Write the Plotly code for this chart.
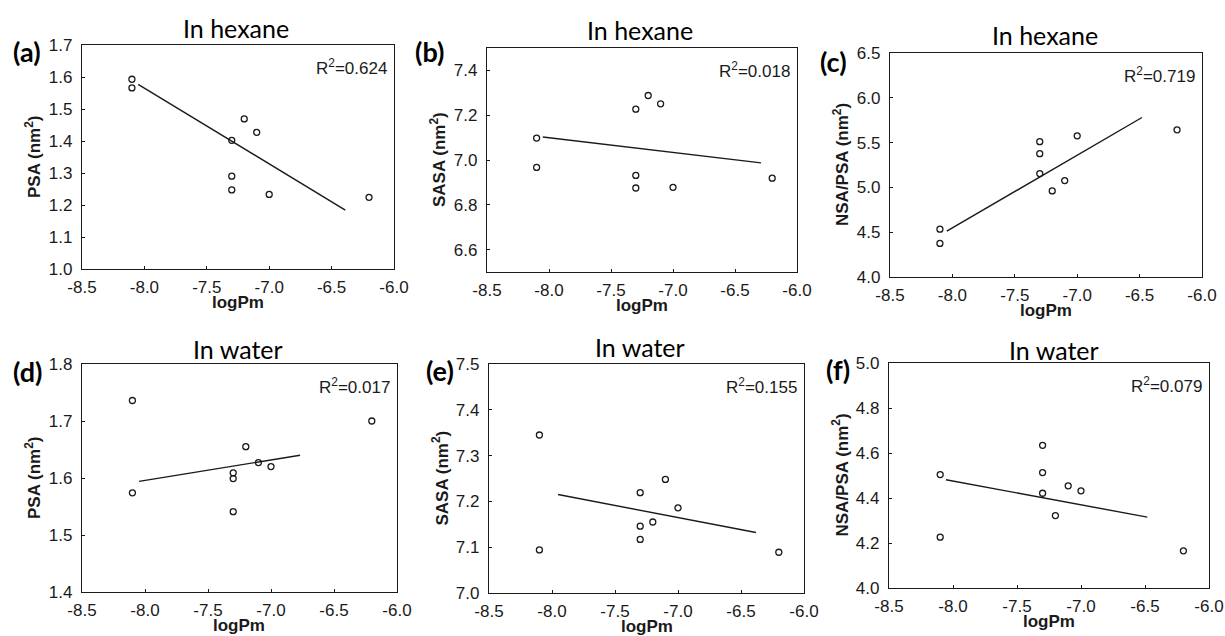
import plotly.graph_objects as go

# ---------------- data ----------------
log_pm = [-8.1, -8.1, -7.3, -7.3, -7.3, -7.2, -7.1, -7.0, -6.2]

psa_hexane = [1.593, 1.566, 1.402, 1.290, 1.247, 1.469, 1.427, 1.233, 1.224]
sasa_hexane = [7.098, 6.967, 7.227, 6.931, 6.875, 7.288, 7.251, 6.878, 6.919]
nsa_psa_hexane = [4.534, 4.375, 5.510, 5.376, 5.154, 4.961, 5.076, 5.576, 5.643]
psa_water = [1.736, 1.574, 1.609, 1.599, 1.541, 1.655, 1.627, 1.620, 1.700]
sasa_water = [7.345, 7.094, 7.219, 7.146, 7.117, 7.155, 7.248, 7.186, 7.089]
nsa_psa_water = [4.504, 4.226, 4.634, 4.513, 4.421, 4.322, 4.454, 4.432, 4.165]

# regression line end points
fit_x_a = [-8.05, -6.39]
fit_y_a = [1.577, 1.184]
fit_x_b = [-8.05, -6.29]
fit_y_b = [7.103, 6.987]
fit_x_c = [-8.045, -6.481]
fit_y_c = [4.512, 5.780]
fit_x_d = [-8.047, -6.769]
fit_y_d = [1.594, 1.640]
fit_x_e = [-7.952, -6.381]
fit_y_e = [7.215, 7.132]
fit_x_f = [-8.055, -6.482]
fit_y_f = [4.481, 4.315]

r2_values = ["0.624", "0.018", "0.719", "0.017", "0.155", "0.079"]
panel_letters = ["(a)", "(b)", "(c)", "(d)", "(e)", "(f)"]
panel_titles = ["In hexane", "In hexane", "In hexane", "In water", "In water", "In water"]
y_titles = ["PSA (nm<sup>2</sup>)", "SASA (nm<sup>2</sup>)", "NSA/PSA (nm<sup>2</sup>)",
            "PSA (nm<sup>2</sup>)", "SASA (nm<sup>2</sup>)", "NSA/PSA (nm<sup>2</sup>)"]
x_title = "logPm"

x_tick_vals = [-8.5, -8.0, -7.5, -7.0, -6.5, -6.0]
x_tick_text = ["-8.5", "-8.0", "-7.5", "-7.0", "-6.5", "-6.0"]

y_tick_vals_a = [1.0, 1.1, 1.2, 1.3, 1.4, 1.5, 1.6, 1.7]
y_tick_vals_b = [6.6, 6.8, 7.0, 7.2, 7.4]
y_tick_vals_c = [4.0, 4.5, 5.0, 5.5, 6.0, 6.5]
y_tick_vals_d = [1.4, 1.5, 1.6, 1.7, 1.8]
y_tick_vals_e = [7.0, 7.1, 7.2, 7.3, 7.4, 7.5]
y_tick_vals_f = [4.0, 4.2, 4.4, 4.6, 4.8, 5.0]

y_ranges = [[1.0, 1.7], [6.5, 7.5], [4.0, 6.5], [1.4, 1.8], [7.0, 7.5], [4.0, 5.0]]
x_range = [-8.5, -6.0]

# ---------------- layout geometry (window pixels) ----------------
W, H = 1225, 636
boxes = [  # left, top, right, bottom
    (82, 45, 394, 269),
    (487, 48, 797, 272),
    (890, 53, 1202, 277),
    (82, 364, 397, 592),
    (489, 364, 804, 593),
    (889, 363, 1209, 588),
]
title_pos = [(236, 28), (640, 30), (1045, 35), (238, 349), (640, 347), (1054, 350)]
letter_pos = [(27, 51), (429, 52), (833, 62), (27, 371), (440, 370), (838, 369)]


def px(x):
    return x / W


def py(y):
    return 1 - y / H


series = [psa_hexane, sasa_hexane, nsa_psa_hexane, psa_water, sasa_water, nsa_psa_water]
fits = [(fit_x_a, fit_y_a), (fit_x_b, fit_y_b), (fit_x_c, fit_y_c),
        (fit_x_d, fit_y_d), (fit_x_e, fit_y_e), (fit_x_f, fit_y_f)]
y_ticks = [y_tick_vals_a, y_tick_vals_b, y_tick_vals_c, y_tick_vals_d, y_tick_vals_e, y_tick_vals_f]

TICK_FONT = "Liberation Sans, Arial, sans-serif"
TITLE_FONT = "Lato, Open Sans, sans-serif"
INK = "#1a1a1a"
FS = 17

fig = go.Figure()
layout = dict(
    width=W, height=H,
    margin=dict(l=0, r=0, t=0, b=0, pad=0),
    paper_bgcolor="white", plot_bgcolor="white",
    showlegend=False,
)
annotations = []

for i in range(6):
    n = "" if i == 0 else str(i + 1)
    xa, ya = "x" + n, "y" + n
    l, t, r, b = boxes[i]
    fig.add_trace(go.Scatter(
        x=log_pm, y=series[i], mode="markers", xaxis=xa, yaxis=ya,
        marker=dict(symbol="circle-open", size=6, color=INK, line=dict(width=1.3, color=INK)),
    ))
    fig.add_trace(go.Scatter(
        x=fits[i][0], y=fits[i][1], mode="lines", xaxis=xa, yaxis=ya,
        line=dict(color=INK, width=1.4),
    ))
    ytxt = [f"{v:.1f}" for v in y_ticks[i]]
    layout["xaxis" + n] = dict(
        domain=[px(l), px(r)], anchor=ya, range=x_range, automargin=False,
        tickvals=x_tick_vals, ticktext=x_tick_text,
        ticks="inside", ticklen=3, tickwidth=1, tickcolor=INK,
        showline=True, linecolor=INK, linewidth=1.3, mirror=True,
        showgrid=False, zeroline=False,
        tickfont=dict(family=TICK_FONT, size=FS, color=INK),
        ticklabelstandoff=2,
    )
    layout["yaxis" + n] = dict(
        domain=[py(b), py(t)], anchor=xa, range=y_ranges[i], automargin=False,
        tickvals=y_ticks[i], ticktext=ytxt,
        ticks="inside", ticklen=3, tickwidth=1, tickcolor=INK,
        showline=True, linecolor=INK, linewidth=1.3, mirror=True,
        showgrid=False, zeroline=False,
        tickfont=dict(family=TICK_FONT, size=FS, color=INK),
        ticklabelstandoff=5,
    )
    # panel title
    annotations.append(dict(
        xref="paper", yref="paper", x=px(title_pos[i][0]), y=py(title_pos[i][1]),
        text=panel_titles[i], showarrow=False, xanchor="center", yanchor="middle",
        font=dict(family=TITLE_FONT, size=25, color="black"),
    ))
    # panel letter
    annotations.append(dict(
        xref="paper", yref="paper", x=px(letter_pos[i][0]), y=py(letter_pos[i][1]),
        text="<b>" + panel_letters[i] + "</b>", showarrow=False, xanchor="center", yanchor="middle",
        font=dict(family=TITLE_FONT, size=27, color="black"),
    ))
    # R^2 label
    annotations.append(dict(
        xref=xa + " domain", yref=ya + " domain", x=1, y=1, xshift=-5, yshift=-22,
        text="R<sup>2</sup>=" + r2_values[i], showarrow=False, xanchor="right", yanchor="middle",
        font=dict(family=TICK_FONT, size=FS, color=INK),
    ))
    # x axis title
    annotations.append(dict(
        xref=xa + " domain", yref=ya + " domain", x=0.5, y=0, yshift=-33,
        text="<b>" + x_title + "</b>", showarrow=False, xanchor="center", yanchor="middle",
        font=dict(family=TICK_FONT, size=FS, color=INK),
    ))
    # y axis title
    annotations.append(dict(
        xref=xa + " domain", yref=ya + " domain", x=0, y=0.5, xshift=-49,
        text="<b>" + y_titles[i] + "</b>", textangle=-90, showarrow=False,
        xanchor="center", yanchor="middle",
        font=dict(family=TICK_FONT, size=FS, color=INK),
    ))

layout["annotations"] = annotations
fig.update_layout(**layout)
# remove the default 8px page margin so the 1225x636 figure fills the window exactly
fig.write_html("out.html", config={"displayModeBar": False},
               post_script="document.body.style.margin='0';")
